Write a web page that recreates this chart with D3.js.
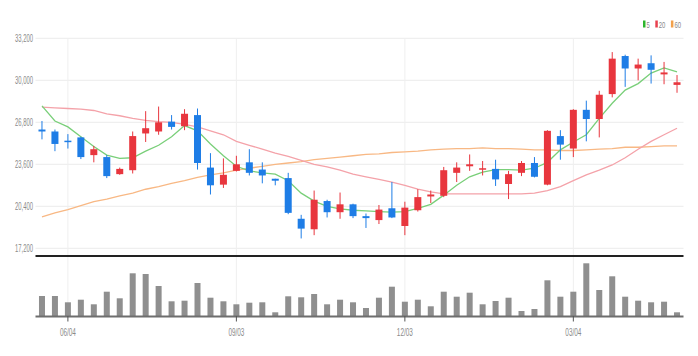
<!DOCTYPE html>
<html><head><meta charset="utf-8">
<script src="https://cdn.jsdelivr.net/npm/d3@7"></script>
<style>body{margin:0;background:#fff}svg{display:block}</style>
</head><body><svg id="c" width="698" height="356"></svg>
<script>
const dates = ["05/21","05/28","06/04","06/11","06/18","06/25","07/02","07/09","07/16","07/23","07/30","08/06","08/13","08/20","08/27","09/03","09/10","09/17","09/24","10/01","10/08","10/15","10/22","10/29","11/05","11/12","11/19","11/26","12/03","12/10","12/17","12/24","12/31","01/07","01/14","01/21","01/28","02/04","02/11","02/18","02/25","03/04","03/11","03/18","03/25","04/01","04/08","04/15","04/22","04/29"];
const open  = [26250,26100,25400,25650,24300,24150,22850,23150,25950,26100,26850,26500,27350,23350,22050,23100,23750,23200,22500,22550,19450,18650,20800,19950,20550,19650,19350,20250,18900,20100,21150,21200,22950,23450,23200,23250,22100,22950,23700,22050,25750,24800,27750,27050,28950,31850,30900,31300,30450,29650];
const high  = [26900,26250,25900,25700,25000,24300,23350,26100,27650,28000,27350,27800,27850,24450,24050,24250,24750,23750,22500,22950,19750,21600,20900,21450,20600,19850,20500,22250,20750,21700,21600,23400,23750,24350,23850,23950,23100,23850,24150,26200,26200,27800,28450,29200,32150,31950,31650,31900,31400,30400];
const low   = [25500,24600,24800,24000,23750,22550,22800,22900,25300,25850,26250,26200,23200,21300,21800,23050,22750,22150,22000,19800,17950,18200,19550,19450,19500,18750,19050,19500,18200,20000,20650,21100,22250,23100,22750,21950,20950,22700,22600,22000,23950,24150,25350,25650,28700,29500,30000,29750,29700,29050];
const close = [26100,25150,25300,24150,24750,22700,23250,25750,26350,26800,26450,27450,23700,22000,22800,23600,22950,22750,22350,19900,18700,20900,19950,20550,19650,19500,20150,19550,20300,21100,21300,23150,23350,23600,23300,22450,22850,23700,22650,26150,25100,27750,27050,28900,31650,30900,31200,30800,30600,29850];
const volume = [205000,205000,142000,168000,122000,248000,182000,432000,425000,305000,152000,158000,335000,188000,152000,122000,138000,142000,42000,202000,192000,225000,122000,168000,142000,85000,188000,298000,148000,168000,102000,248000,198000,238000,122000,155000,188000,55000,75000,362000,198000,248000,532000,265000,402000,198000,158000,142000,148000,42000];
const ma5  = [28050,26900,26450,25700,24950,24300,24050,24100,24600,25050,25700,26550,26150,25150,24250,23450,23100,22950,22850,22350,21400,20800,20400,20200,20100,20050,20000,19950,20000,20250,20550,21250,22000,22650,23000,23200,23200,23150,23300,23750,24700,25300,25850,27100,28250,29250,29750,30550,30950,30650];
const ma20 = [27950,27900,27850,27800,27700,27450,27300,27100,26950,26850,26800,26650,26450,26150,25850,25350,25050,24750,24450,24200,23900,23600,23400,23150,22850,22650,22450,22250,22000,21700,21500,21350,21350,21350,21350,21350,21350,21350,21400,21600,21900,22350,22800,23150,23550,24100,24750,25350,25850,26350];
const ma60 = [19600,19900,20150,20450,20750,20950,21200,21400,21700,21900,22150,22350,22600,22800,22950,23150,23300,23450,23600,23700,23800,23950,24050,24150,24250,24350,24400,24500,24550,24600,24700,24750,24800,24800,24850,24800,24800,24750,24700,24700,24650,24650,24700,24750,24800,24900,24900,24950,25000,25000];
const priceTicks = [17200,20400,23600,26800,30000,33200];
const dateTicks = ["06/04","09/03","12/03","03/04"];
const legendItems = [{label:"5",color:"#2cb52c"},{label:"20",color:"#e8404e"},{label:"60",color:"#f2a04a"}];

const svg = d3.select("#c");
const L = 35.5, R = 683.5;
const x = d3.scaleBand().domain(dates).range([L, R]).padding(0);
const cx = d => x(d) + x.bandwidth()/2;
const y = d3.scaleLinear().domain([17200, 33200]).range([248.3, 38.3]);
const yv = d3.scaleLinear().domain([0, 540000]).range([316.5, 262.5]);
const font = "'Liberation Sans Narrow','Arial Narrow',sans-serif";

// grid
svg.append("g").selectAll("line").data(priceTicks).join("line")
  .attr("x1", L).attr("x2", R).attr("y1", d => y(d)).attr("y2", d => y(d))
  .attr("stroke", "#ececec").attr("stroke-width", 1);
svg.append("g").selectAll("line").data(dateTicks).join("line")
  .attr("x1", d => cx(d)).attr("x2", d => cx(d)).attr("y1", 38).attr("y2", 316)
  .attr("stroke", "#efefef").attr("stroke-width", 1);

// y labels
svg.append("g").selectAll("text").data(priceTicks).join("text")
  .attr("x", 33).attr("y", d => y(d) + 3.5).attr("text-anchor", "end")
  .attr("font-family", font).attr("font-size", 10).attr("fill", "#8a8a8a")
  .attr("textLength", 18).attr("lengthAdjust", "spacingAndGlyphs")
  .text(d => d3.format(",")(d));

// MA lines
const line = arr => d3.line().x((d,i) => cx(dates[i])).y(d => y(d))(arr);
[[ma60,"#f8b884"],[ma20,"#f4a2a9"],[ma5,"#79cf79"]].forEach(([arr,c]) => {
  svg.append("path").attr("d", line(arr)).attr("fill","none").attr("stroke",c).attr("stroke-width",1.3);
});

// candles
const up = "#e8363e", dn = "#1e7de6";
const g = svg.append("g");
dates.forEach((d,i) => {
  const c = close[i] >= open[i] ? up : dn;
  g.append("line").attr("x1", cx(d)).attr("x2", cx(d)).attr("y1", y(high[i])).attr("y2", y(low[i]))
    .attr("stroke", c).attr("stroke-width", 1);
  const top = y(Math.max(open[i], close[i])), bot = y(Math.min(open[i], close[i]));
  g.append("rect").attr("x", cx(d) - 3.5).attr("width", 7)
    .attr("y", top).attr("height", Math.max(1.5, bot - top)).attr("fill", c);
});

// separator
svg.append("line").attr("x1", L).attr("x2", R).attr("y1", 256).attr("y2", 256)
  .attr("stroke", "#222").attr("stroke-width", 2);

// volume
svg.append("g").selectAll("rect").data(volume).join("rect")
  .attr("x", (d,i) => cx(dates[i]) - 3).attr("width", 6)
  .attr("y", d => yv(d)).attr("height", d => yv(0) - yv(d)).attr("fill", "#8f8f8f");
svg.append("line").attr("x1", L).attr("x2", R).attr("y1", 316.5).attr("y2", 316.5)
  .attr("stroke", "#6e6e6e").attr("stroke-width", 2);
svg.append("g").selectAll("line").data(dateTicks).join("line")
  .attr("x1", d => cx(d)).attr("x2", d => cx(d)).attr("y1", 316).attr("y2", 321.5)
  .attr("stroke", "#555").attr("stroke-width", 1);
svg.append("g").selectAll("text").data(dateTicks).join("text")
  .attr("x", d => cx(d)).attr("y", 336).attr("text-anchor", "middle")
  .attr("font-family", font).attr("font-size", 10).attr("fill", "#8a8a8a")
  .attr("textLength", 16).attr("lengthAdjust", "spacingAndGlyphs")
  .text(d => d);

// legend
let lx = 643;
const lg = svg.append("g");
legendItems.forEach(it => {
  lg.append("rect").attr("x", lx).attr("y", 20.5).attr("width", 2.5).attr("height", 7).attr("fill", it.color);
  const w = it.label.length * 3.3;
  lg.append("text").attr("x", lx + 3.5).attr("y", 27.5).attr("font-family", font).attr("font-size", 9)
    .attr("fill", "#888").attr("textLength", w).attr("lengthAdjust", "spacingAndGlyphs").text(it.label);
  lx += 3.5 + w + 5.5;
});
</script></body></html>
